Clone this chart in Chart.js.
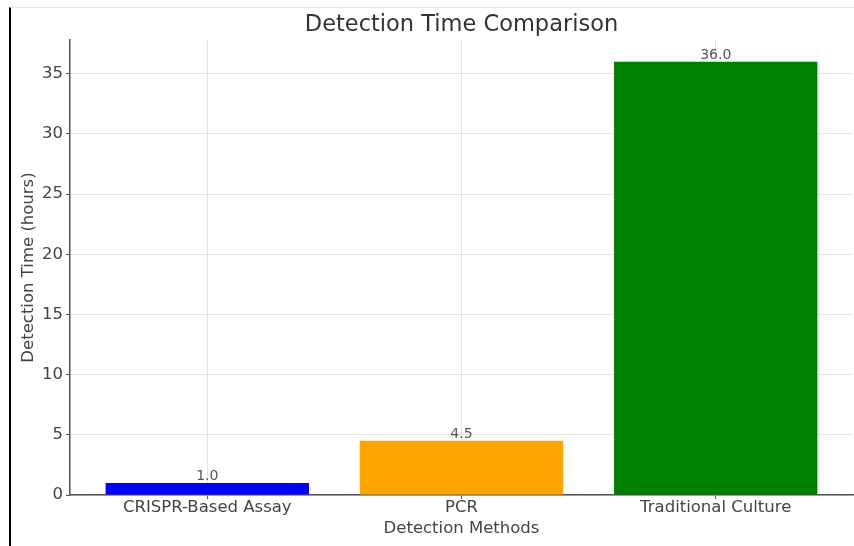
<!DOCTYPE html>
<html>
<head>
<meta charset="utf-8">
<script src="https://cdn.jsdelivr.net/npm/chart.js@4.4.0/dist/chart.umd.min.js"></script>
<style>
  html, body { margin: 0; padding: 0; background: #fff; }
  #wrap { position: relative; width: 854px; height: 546px; overflow: hidden; }
  #frame { position: absolute; left: 9px; top: 7px; right: 0; bottom: 0;
           border-left: 2px solid #000; border-top: 1px solid #e6e6e6; pointer-events: none; }
</style>
</head>
<body>
<div id="wrap">
  <canvas id="chart" width="854" height="546"></canvas>
  <div id="frame"></div>
</div>
<script>
  const methods = ["CRISPR-Based Assay", "PCR", "Traditional Culture"];
  const hours = [1.0, 4.5, 36.0];
  const barColors = ["#0000ff", "#ffa500", "#008000"];
  const yTickValues = [0, 5, 10, 15, 20, 25, 30, 35];

  const FONT = "'DejaVu Sans', sans-serif";
  const TEXT = "#444";
  const AXIS = "#555";
  const GRID = "rgba(170,170,170,0.3)";

  // numbers printed on top of each bar
  const valueLabels = {
    id: "valueLabels",
    afterDatasetsDraw(chart) {
      const ctx = chart.ctx;
      const meta = chart.getDatasetMeta(0);
      ctx.save();
      ctx.font = "14px " + FONT;
      ctx.fillStyle = "#555";
      ctx.textAlign = "center";
      ctx.textBaseline = "alphabetic";
      meta.data.forEach((bar, i) => {
        ctx.fillText(hours[i].toFixed(1), bar.x, bar.y - 2.5);
      });
      ctx.restore();
    }
  };

  new Chart(document.getElementById("chart"), {
    type: "bar",
    data: {
      datasets: [{
        data: hours.map((h, i) => ({ x: i, y: h })),
        backgroundColor: barColors,
        borderWidth: 0,
        categoryPercentage: 1,
        barPercentage: 0.8
      }]
    },
    options: {
      responsive: false,
      animation: false,
      layout: { padding: { left: 0, right: 1, top: 0, bottom: 0 } },
      plugins: {
        legend: { display: false },
        tooltip: { enabled: false },
        title: {
          display: true,
          text: "Detection Time Comparison",
          fullSize: false,
          color: "#333",
          font: { family: FONT, size: 22.5, weight: "normal" },
          padding: { top: 12, bottom: 1 }
        }
      },
      scales: {
        x: {
          type: "linear",
          min: -0.54,
          max: 2.54,
          offset: false,
          z: 1,
          afterBuildTicks: s => { s.ticks = methods.map((m, i) => ({ value: i })); },
          afterFit: s => { s.height = 51; },
          ticks: {
            color: TEXT,
            font: { family: FONT, size: 16.5, lineHeight: 1 },
            padding: 0,
            maxRotation: 0,
            callback: v => methods[v]
          },
          grid: { offset: false, color: GRID, lineWidth: 1, tickColor: AXIS, tickLength: 4 },
          border: { color: AXIS, width: 1.5 },
          title: {
            display: true,
            text: "Detection Methods",
            color: TEXT,
            font: { family: FONT, size: 16.5 },
            padding: { top: 0, bottom: 7.5 }
          }
        },
        y: {
          min: 0,
          max: 37.8,
          z: 1,
          afterBuildTicks: s => { s.ticks = yTickValues.map(v => ({ value: v })); },
          afterFit: s => { s.width = 70; },
          ticks: {
            color: TEXT,
            font: { family: FONT, size: 16.5 },
            padding: 3
          },
          grid: { color: GRID, lineWidth: 1, tickColor: AXIS, tickLength: 4 },
          border: { color: AXIS, width: 1.5 },
          title: {
            display: true,
            text: "Detection Time (hours)",
            color: TEXT,
            font: { family: FONT, size: 16.5 },
            padding: { top: 18.5, bottom: 4 }
          }
        }
      }
    },
    plugins: [valueLabels]
  });
</script>
</body>
</html>
